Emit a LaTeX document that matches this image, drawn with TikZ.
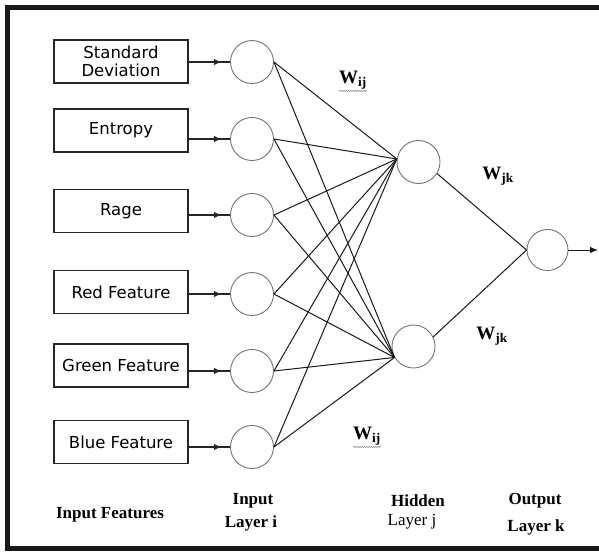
\documentclass[tikz,border=0pt]{standalone}
\usepackage{fontspec}
\setmainfont{Liberation Serif}
\newfontfamily\boxfont{DejaVu Sans}
\usepackage{tikz}
\usetikzlibrary{arrows.meta,positioning,decorations.markings,decorations.pathmorphing}

\begin{document}
\begin{tikzpicture}[x=1pt,y=-1pt,
  feat/.style={rectangle,draw=black!85,line width=1.2pt,minimum width=134pt,minimum height=43pt,
              align=center,font=\boxfont\fontsize{16.5}{17.5}\selectfont,inner sep=0pt},
  neuron/.style={circle,draw=black!55,line width=0.9pt,minimum size=43pt,inner sep=0pt},
  link/.style={line width=1pt,black!90},
  feed/.style={line width=1.1pt,black!85,postaction={decorate},
              decoration={markings,mark=at position 0.8 with {\arrow{Latex[length=8pt,width=6.5pt]}}}},
  wlabel/.style={font=\fontsize{19}{19}\selectfont,inner sep=0pt},
  layer/.style={font=\bfseries\fontsize{17}{20}\selectfont,inner sep=0pt}
]
\useasboundingbox (0,0) rectangle (599,552);
% frame
\draw[line width=5pt,black!90,line join=miter] (601,7.5) -- (7.5,7.5) -- (7.5,548) -- (601,548);

% input features
\node[feat] (sd) at (121,61.5) {Standard\\Deviation};
\node[feat] (ent) at (121,130.5) {Entropy};
\node[feat] (rage) at (121,211) {Rage};
\node[feat] (red) at (121,292) {Red Feature};
\node[feat] (green) at (121,365.5) {Green Feature};
\node[feat] (blue) at (121,442) {Blue Feature};

% input layer i
\node[neuron] (i1) at (252,62) {};
\node[neuron] (i2) at (252,139) {};
\node[neuron] (i3) at (252,215) {};
\node[neuron] (i4) at (252,294) {};
\node[neuron] (i5) at (252,371) {};
\node[neuron] (i6) at (252,447) {};

% hidden layer j and output layer k
\node[neuron] (h1) at (418.5,162) {};
\node[neuron] (h2) at (413.5,346.5) {};
\node[neuron,minimum size=41pt] (out) at (547.5,250) {};

\draw[feed] (sd.east |- i1) -- (i1);
\draw[feed] (ent.east |- i2) -- (i2);
\draw[feed] (rage.east |- i3) -- (i3);
\draw[feed] (red.east |- i4) -- (i4);
\draw[feed] (green.east |- i5) -- (i5);
\draw[feed] (blue.east |- i6) -- (i6);

\draw[link] (i1.east) -- (h1.172);
\draw[link] (i2.east) -- (h1.172);
\draw[link] (i3.east) -- (h1.172);
\draw[link] (i4.east) -- (h1.172);
\draw[link] (i5.east) -- (h1.172);
\draw[link] (i6.east) -- (h1.172);
\draw[link] (i1.east) -- (h2.210);
\draw[link] (i2.east) -- (h2.210);
\draw[link] (i3.east) -- (h2.210);
\draw[link] (i4.east) -- (h2.210);
\draw[link] (i5.east) -- (h2.210);
\draw[link] (i6.east) -- (h2.210);
\draw[link] (h1.-32) -- (out.west);
\draw[link] (h2.26) -- (out.west);
\coordinate (exit) at (598,250);
\draw[link,-{Latex[length=8pt,width=6.5pt]}] (out.east) -- (exit);

% weights
\node[wlabel] (wij1) at (353,80) {\textbf{W}\textsubscript{\textbf{ij}}};
\node[wlabel] (wjk1) at (498,176) {\textbf{W}\textsubscript{\textbf{jk}}};
\node[wlabel] (wjk2) at (492,336) {\textbf{W}\textsubscript{\textbf{jk}}};
\node[wlabel] (wij2) at (367,436) {\textbf{W}\textsubscript{\textbf{ij}}};
\draw[black!45,line width=0.5pt,decorate,decoration={snake,amplitude=0.7pt,segment length=2.2pt}]
  ([yshift=-1.5pt]wij1.south west) -- ([yshift=-1.5pt]wij1.south east);
\draw[black!45,line width=0.5pt,decorate,decoration={snake,amplitude=0.7pt,segment length=2.2pt}]
  ([yshift=-1.5pt]wij2.south west) -- ([yshift=-1.5pt]wij2.south east);

% layer captions
\node[layer] (capf) at (110,515) {Input Features};
\node[layer] (capi) at (253,501) {Input};
\node[layer] (capil) at (251,523) {Layer i};
\node[layer] (caph) at (418,501) {Hidden};
\node[layer,font=\fontsize{17}{20}\selectfont] (caphl) at (412,522) {Layer j};
\node[layer] (capo) at (535,501) {Output};
\node[layer] (capol) at (536,527) {Layer k};
\end{tikzpicture}
\end{document}
